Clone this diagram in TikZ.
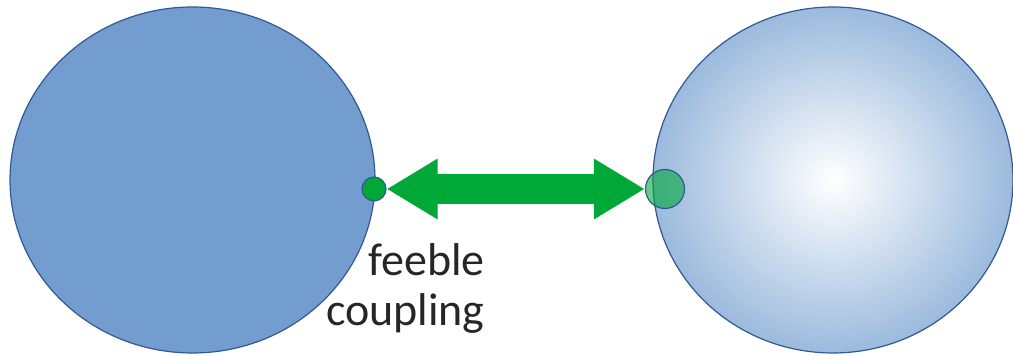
\documentclass[tikz,border=0pt]{standalone}
\usepackage{fontspec}
\setmainfont{Carlito}
\usetikzlibrary{shapes.geometric,arrows.meta}

\definecolor{sysblue}{RGB}{114,157,206}
\definecolor{rimblue}{RGB}{50,88,150}
\definecolor{paleblue}{RGB}{155,186,221}
\definecolor{linkgreen}{RGB}{0,168,56}

\begin{document}
\begin{tikzpicture}[x=0.5pt,y=-0.5pt,
    system/.style={ellipse, draw=rimblue, line width=0.6pt, inner sep=0pt,
        minimum height=173pt},
    port/.style={circle, draw=rimblue, line width=0.6pt, inner sep=0pt},
    coupling/.style={line width=15pt, linkgreen,
        {Triangle[length=25.5pt,width=28.5pt]}-{Triangle[length=25.5pt,width=28.5pt]}},
    tag/.style={font=\fontsize{23}{25}\selectfont, text=black!85, align=right, inner sep=0pt}]
    \useasboundingbox (0,0) rectangle (1013,356);

    % two systems
    \node[system, fill=sysblue, minimum width=182.5pt] (sysA) at (192.5,180) {};
    \node[system, inner color=white, outer color=paleblue, minimum width=180pt] (sysB) at (833,180) {};

    % ports on the rims
    \node[port, fill=linkgreen, minimum size=12pt] (portA) at (374,189) {};
    \node[port, fill=linkgreen, fill opacity=0.6, minimum size=19.5pt] (portB) at (665,189) {};

    % link between the ports
    \draw[coupling] (portA.east) -- (portB.west);

    \node[tag, anchor=base east] (note) at (485,326) {feeble\\coupling};
\end{tikzpicture}
\end{document}
